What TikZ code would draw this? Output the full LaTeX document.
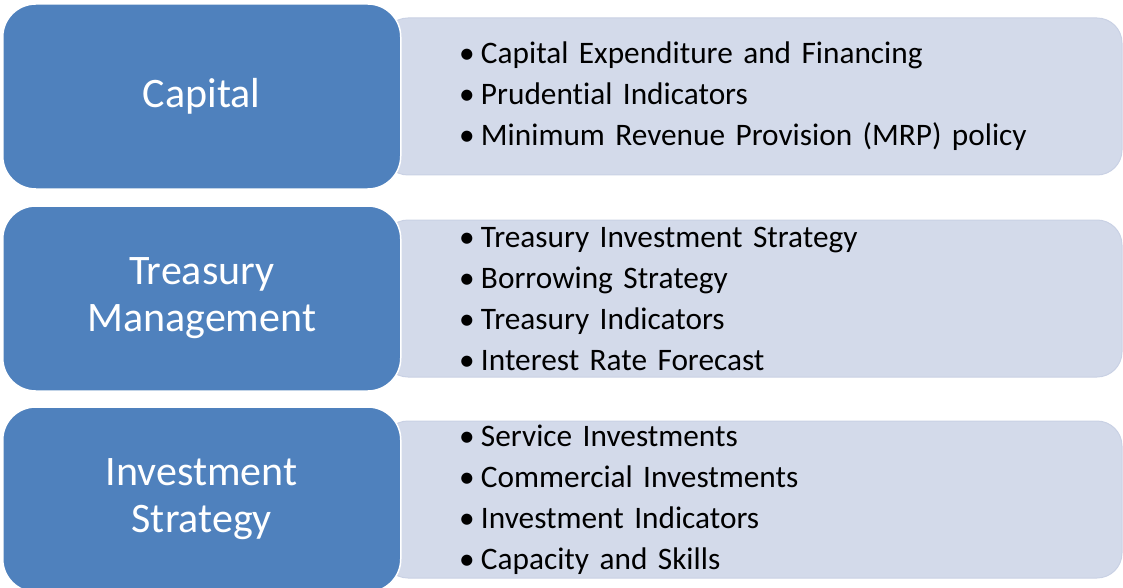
\documentclass[tikz,border=0pt]{standalone}
\usepackage{fontspec}
\setmainfont{Carlito}[Ligatures=NoCommon]
\usetikzlibrary{positioning}
\definecolor{headblue}{HTML}{4F81BD}
\definecolor{listgray}{HTML}{D3DAEA}
\definecolor{listedge}{HTML}{C9D1E4}
\tikzset{
  headbox/.style={draw=white, line width=1.5pt, fill=headblue, rounded corners=33pt,
    minimum width=398pt, minimum height=185pt, text=white, align=center,
    font=\fontsize{42}{47}\selectfont},
  itemlist/.style={draw=listedge, line width=1pt, fill=listgray, rounded corners=25pt,
    minimum height=157pt, text width=587pt, inner xsep=76pt, align=left,
    font=\fontsize{31.3}{41}\selectfont}
}
\newcommand{\bul}{\makebox[22pt][l]{•}}

\begin{document}
\begin{tikzpicture}
            \useasboundingbox (0,0) rectangle (1123pt,-588pt);

            % item lists behind
            \node (capList) [itemlist] at (752.5pt,-96.5pt)
                {\bul Capital Expenditure and Financing\\ \bul Prudential Indicators\\ \bul Minimum Revenue Provision (MRP) policy};
            \node (treasList) [itemlist, below=44pt of capList]
                {\bul Treasury Investment Strategy\\ \bul Borrowing Strategy\\ \bul Treasury Indicators\\ \bul Interest Rate Forecast};
            \node (invList) [itemlist, below=43pt of treasList]
                {\bul Service Investments\\ \bul Commercial Investments\\ \bul Investment Indicators\\ \bul Capacity and Skills};

            % headings on top
            \node (cap) [headbox, anchor=east] at ([xshift=19pt]capList.west) {Capital};
            \node (treas) [headbox, anchor=east] at ([xshift=19pt]treasList.west) {Treasury\\Management};
            \node (inv) [headbox, anchor=east] at ([xshift=19pt]invList.west) {Investment\\Strategy};

\end{tikzpicture}
\end{document}
